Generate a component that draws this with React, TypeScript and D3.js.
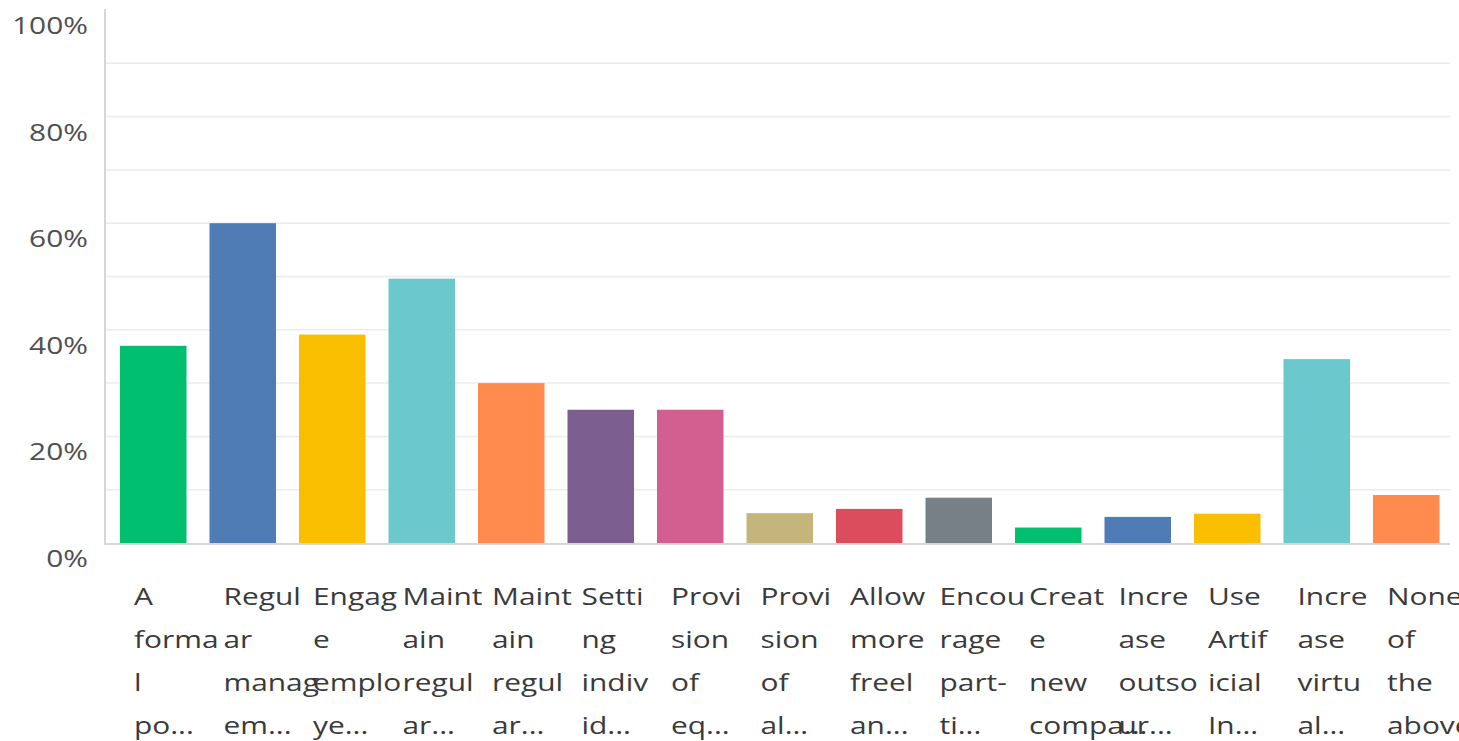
import { useEffect, useRef } from 'react'
import * as d3 from 'd3'

// answer options, as the wrapped/truncated lines shown under each bar
const labelLines: string[][] = [
  ['A', 'forma', 'l', 'po...'],
  ['Regul', 'ar', 'manag', 'em...'],
  ['Engag', 'e', 'emplo', 'ye...'],
  ['Maint', 'ain', 'regul', 'ar...'],
  ['Maint', 'ain', 'regul', 'ar...'],
  ['Setti', 'ng', 'indiv', 'id...'],
  ['Provi', 'sion', 'of', 'eq...'],
  ['Provi', 'sion', 'of', 'al...'],
  ['Allow', 'more', 'freel', 'an...'],
  ['Encou', 'rage', 'part-', 'ti...'],
  ['Creat', 'e', 'new', 'compa...'],
  ['Incre', 'ase', 'outso', 'ur...'],
  ['Use', 'Artif', 'icial', 'In...'],
  ['Incre', 'ase', 'virtu', 'al...'],
  ['None', 'of', 'the', 'above'],
]
const values = [37, 60, 39.1, 49.6, 30, 25, 25, 5.6, 6.4, 8.5, 2.9, 4.9, 5.5, 34.5, 9]
const colors = ['#00bf6f', '#507cb6', '#f9be00', '#6bc8cd', '#ff8b4f', '#7d5e90', '#d25f90', '#c4b67b', '#db4d5c', '#768086', '#00bf6f', '#507cb6', '#f9be00', '#6bc8cd', '#ff8b4f']
const gridTicks = [10, 20, 30, 40, 50, 60, 70, 80, 90]
const labelTicks = [0, 20, 40, 60, 80, 100]

export default function App() {
  const ref = useRef<SVGSVGElement>(null)
  useEffect(() => {
    document.body.style.margin = '0'
    if (!ref.current) return
    const W = 1459, H = 741
    const svg = d3.select(ref.current)
    svg.selectAll('*').remove()
    const idx = values.map((_, i) => i)
    const x = d3.scaleBand<number>().domain(idx).range([108.5, 1451]).paddingInner(0.257).paddingOuter(0.1285)
    const y = d3.scaleLinear().domain([0, 100]).range([543, 10])
    const font = '"Open Sans", sans-serif'
    const sx = 1.3 // the picture is stretched sideways

    svg.append('g').selectAll('line').data(gridTicks).join('line')
      .attr('x1', 105).attr('x2', 1450).attr('y1', d => y(d)).attr('y2', d => y(d))
      .attr('stroke', '#ececec').attr('stroke-width', 1.5)

    svg.append('g').selectAll('rect').data(values).join('rect')
      .attr('x', (_, i) => x(i)!).attr('width', x.bandwidth())
      .attr('y', d => y(d)).attr('height', d => y(0) - y(d))
      .attr('fill', (_, i) => colors[i])

    // axes
    svg.append('line').attr('x1', 105).attr('x2', 105).attr('y1', 9).attr('y2', 544)
      .attr('stroke', '#d6d6d6').attr('stroke-width', 2)
    svg.append('line').attr('x1', 104).attr('x2', 1450).attr('y1', 544).attr('y2', 544)
      .attr('stroke', '#d6d6d6').attr('stroke-width', 2)

    svg.append('g').selectAll('text').data(labelTicks).join('text')
      .attr('transform', d => `translate(88,${y(d) + 16}) scale(${sx},1)`).attr('dy', '0.35em')
      .attr('text-anchor', 'end').attr('font-family', font).attr('font-size', 23)
      .attr('fill', '#505050').text(d => `${d}%`)

    const lab = svg.append('g').selectAll('text').data(labelLines).join('text')
      .attr('transform', (_, i) => `translate(${x(i)! + 14},0) scale(${sx},1)`)
      .attr('font-family', font).attr('font-size', 23).attr('fill', '#3a3a3a')
    lab.each(function (lines) {
      const t = d3.select(this)
      lines.forEach((s, k) => {
        t.append('tspan').attr('x', 0).attr('y', 597 + k * 43).attr('dy', '0.35em').text(s)
      })
    })
    svg.attr('width', W).attr('height', H)
  }, [])
  return <svg ref={ref} style={{ display: 'block', background: '#fff' }} />
}
